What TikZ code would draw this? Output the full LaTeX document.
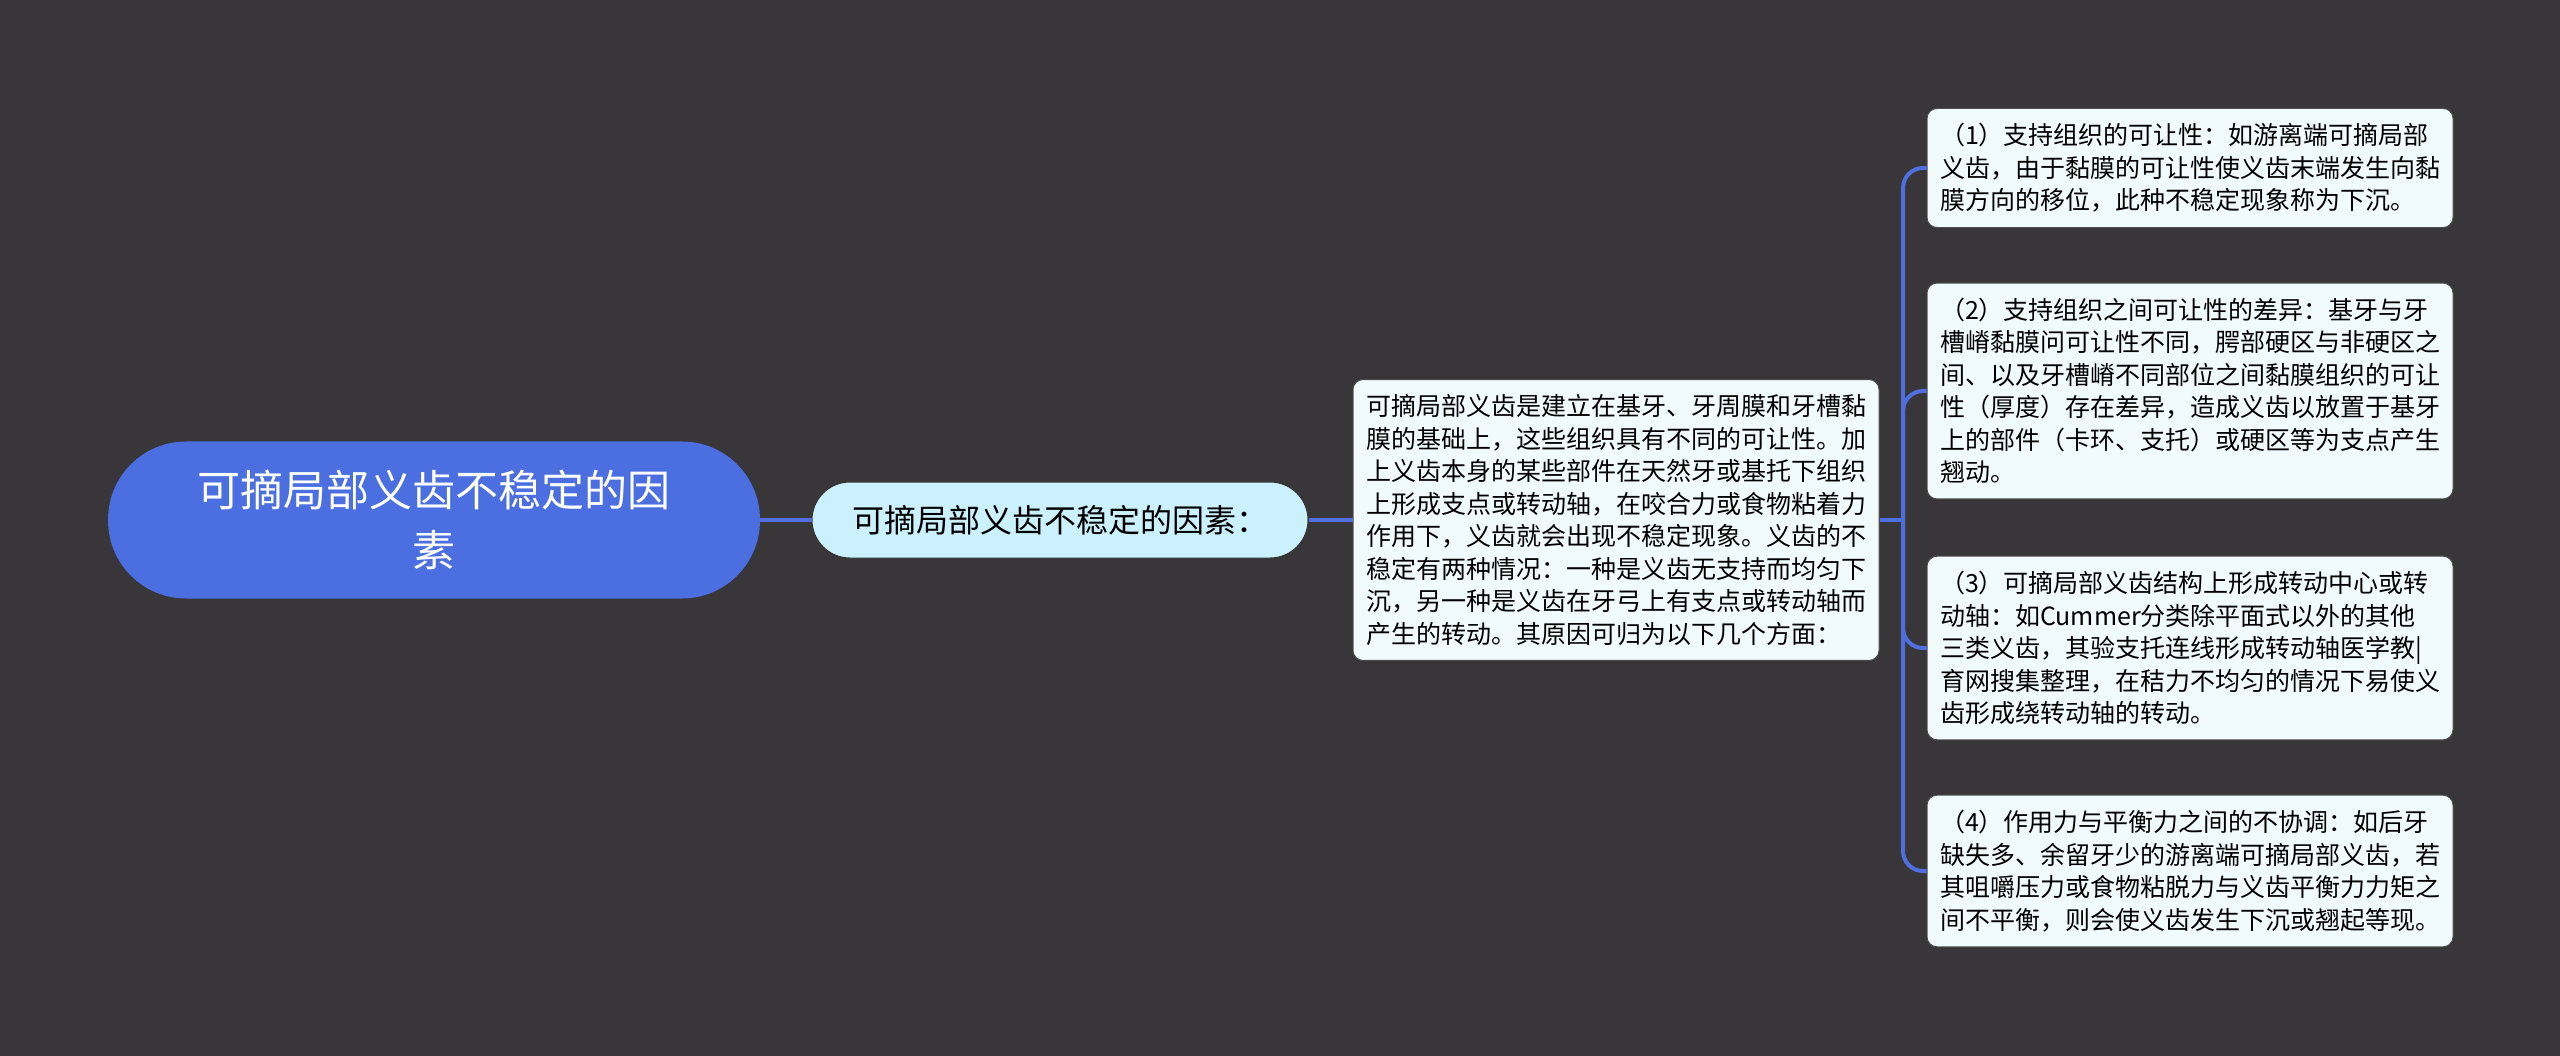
\documentclass[tikz,border=0pt]{standalone}
\usepackage{fontspec}
\setmainfont{Noto Sans CJK SC}
\usetikzlibrary{positioning}
\usepackage{xcolor}

\definecolor{bgdark}{HTML}{383638}
\definecolor{rootblue}{HTML}{4B6EE0}
\definecolor{topicfill}{HTML}{CCF1FE}
\definecolor{leaffill}{HTML}{F1FBFD}
\definecolor{linkblue}{HTML}{4F6FE0}

\tikzset{
  rootnode/.style={fill=rootblue, text=white, rounded corners=78pt,
    minimum width=652pt, minimum height=157pt, align=center,
    font=\fontsize{43}{60}\selectfont},
  topicnode/.style={fill=topicfill, draw=black!80, line width=1pt, rounded corners=38pt,
    minimum width=496pt, minimum height=76pt,
    font=\fontsize{32}{38}\selectfont},
  leafbox/.style={fill=leaffill, draw=black!70, line width=1pt, rounded corners=10pt,
    text width=500pt, align=left, inner xsep=13pt, inner ysep=15pt,
    font=\fontsize{25}{32.5}\selectfont},
  link/.style={draw=linkblue, line width=4pt}
}

\begin{document}
\begin{tikzpicture}[x=1pt, y=-1pt]
  \fill[bgdark] (0,0) rectangle (2560,1056);

  \node[rootnode] (root) at (434,520) {可摘局部义齿不稳定的因\\素};
  \node[topicnode] (topic) at (1060,520) {可摘局部义齿不稳定的因素：};

  \node[leafbox] (intro) at (1616,520) {可摘局部义齿是建立在基牙、牙周膜和牙槽黏\\
    膜的基础上，这些组织具有不同的可让性。加\\
    上义齿本身的某些部件在天然牙或基托下组织\\
    上形成支点或转动轴，在咬合力或食物粘着力\\
    作用下，义齿就会出现不稳定现象。义齿的不\\
    稳定有两种情况：一种是义齿无支持而均匀下\\
    沉，另一种是义齿在牙弓上有支点或转动轴而\\
    产生的转动。其原因可归为以下几个方面：};

  % four causes
  \node[leafbox] (f1) at (2190,168) {（1）支持组织的可让性：如游离端可摘局部\\
    义齿，由于黏膜的可让性使义齿末端发生向黏\\
    膜方向的移位，此种不稳定现象称为下沉。};
  \node[leafbox] (f2) at (2190,391) {（2）支持组织之间可让性的差异：基牙与牙\\
    槽嵴黏膜问可让性不同，腭部硬区与非硬区之\\
    间、以及牙槽嵴不同部位之间黏膜组织的可让\\
    性（厚度）存在差异，造成义齿以放置于基牙\\
    上的部件（卡环、支托）或硬区等为支点产生\\
    翘动。};
  \node[leafbox] (f3) at (2190,648) {（3）可摘局部义齿结构上形成转动中心或转\\
    动轴：如Cummer分类除平面式以外的其他\\
    三类义齿，其验支托连线形成转动轴医学教|\\
    育网搜集整理，在秸力不均匀的情况下易使义\\
    齿形成绕转动轴的转动。};
  \node[leafbox] (f4) at (2190,871) {（4）作用力与平衡力之间的不协调：如后牙\\
    缺失多、余留牙少的游离端可摘局部义齿，若\\
    其咀嚼压力或食物粘脱力与义齿平衡力力矩之\\
    间不平衡，则会使义齿发生下沉或翘起等现。};

  \coordinate (fork) at (1903,520);
  \draw[link] (root) -- (topic);
  \draw[link] (topic) -- (intro);
  \draw[link] (intro) -- (fork);
  \foreach \f in {f1,f2,f3,f4}
    \draw[link, rounded corners=20pt] (fork) |- (\f.west);
\end{tikzpicture}
\end{document}
